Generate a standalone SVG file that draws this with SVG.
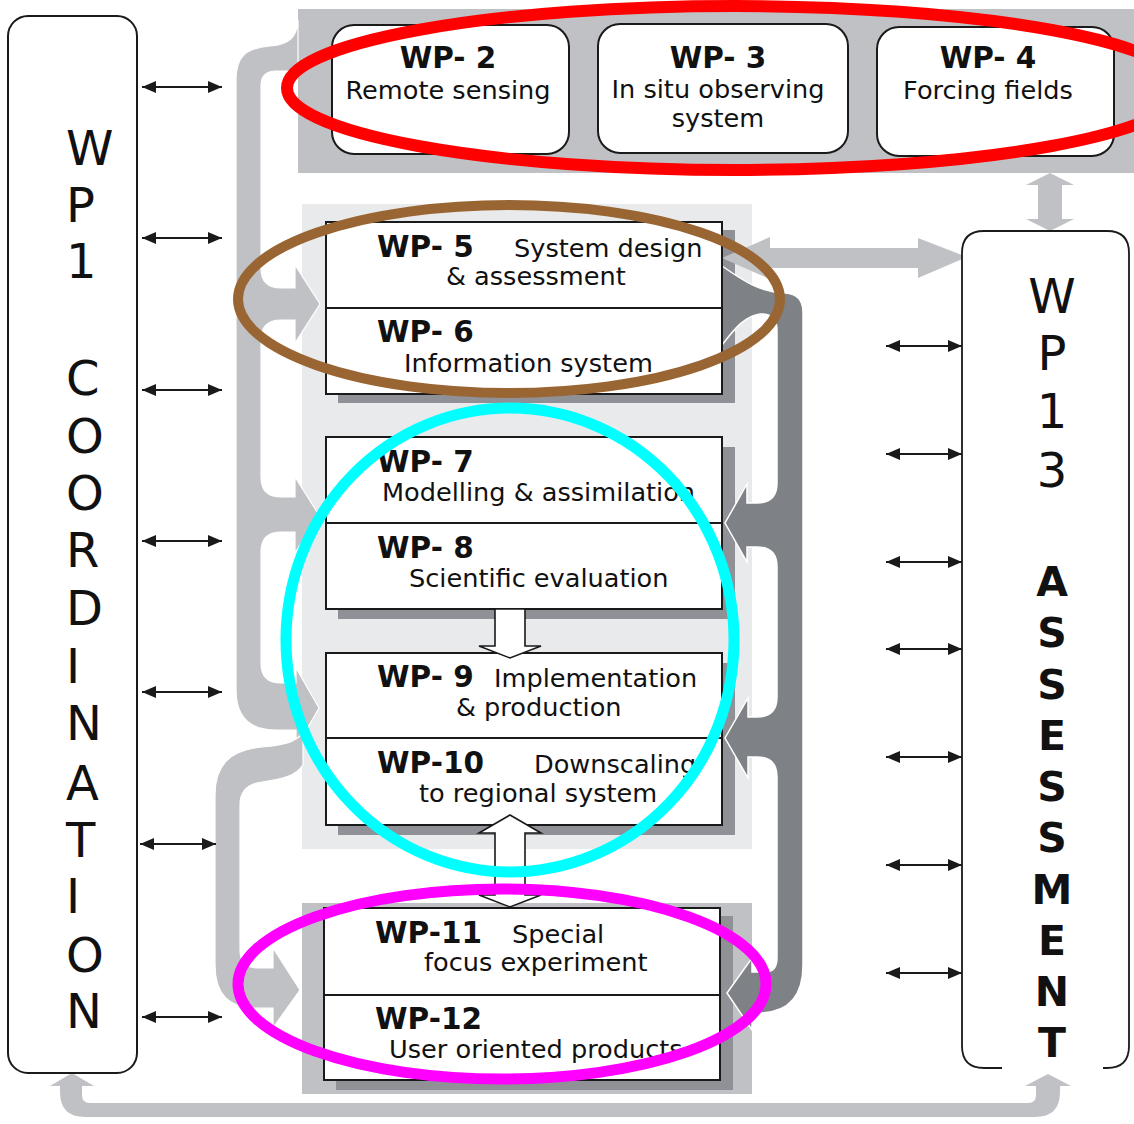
<svg xmlns="http://www.w3.org/2000/svg" width="1134" height="1124" viewBox="0 0 1134 1124">
  <defs>
    <style>
      .t { font-family: "DejaVu Sans", Verdana, sans-serif; fill: #111; }
      .title { font-size: 29.5px; font-weight: bold; }
      .sub { font-size: 25.6px; }
      .big { font-size: 48px; }
      .bigb { font-size: 41px; font-weight: bold; }
      .box { fill: #fff; stroke: #1a1a1a; stroke-width: 2; }
      .shadow { fill: #8f9196; }
      .lg { fill: #c0c1c4; }
      .flow { fill: #c0c1c4; stroke: #fff; stroke-width: 1.2; }
      .dark { fill: #7e8287; stroke: #fff; stroke-width: 1.5; }
      .hollow { fill: #fff; stroke: #1a1a1a; stroke-width: 1.6; }
      .link { stroke: #1a1a1a; stroke-width: 2; fill: none; marker-start: url(#head); marker-end: url(#head); }
      .ring { fill: none; }
    </style>
    <marker id="head" viewBox="0 0 14 12" markerUnits="userSpaceOnUse" markerWidth="14" markerHeight="12" refX="14" refY="6" orient="auto-start-reverse">
      <path d="M0 0 L14 6 L0 12 Z" fill="#1a1a1a"/>
    </marker>
  </defs>

  <rect width="1134" height="1124" fill="#fff"/>

  <!-- background panels -->
  <rect class="lg" x="298" y="9" width="836" height="164"/>
  <rect x="302" y="204" width="450" height="645" fill="#e9eaec"/>
  <rect class="lg" x="302" y="903" width="450" height="191"/>

  <!-- box shadows -->
  <rect class="shadow" x="338" y="230" width="397" height="173"/>
  <rect class="shadow" x="338" y="447" width="397" height="172"/>
  <rect class="shadow" x="338" y="663" width="397" height="172"/>
  <rect class="shadow" x="336" y="916" width="397" height="174"/>

  <g id="connectors">
    <!-- left flow from the observing band down to WP5, WP7 and WP9 -->
    <path class="flow" d="M298 20 C297 36 291 44 270 46 C246 48 236 56 236 80 L236 690 Q236 730 276 730 L296 730 L296 748 L319 708 L296 668 L296 683 L281 683 Q261 683 261 663 L261 552 Q261 532 281 532 L295 532 L295 553 L319 515 L295 477 L295 497 L281 497 Q261 497 261 477 L261 340 Q261 320 281 320 L295 320 L295 343 L320 304 L295 265 L295 288 L281 288 Q261 288 261 268 L261 86 Q261 71 276 71 L298 71 Z"/>
    <!-- left flow down to WP11 -->
    <path class="flow" d="M303 733 C295 742 285 745 262 747 C230 750 215 765 215 795 L215 965 Q215 1008 255 1008 L273 1008 L273 1028 L300 990 L273 948 L273 968 L258 968 Q240 968 240 950 L240 805 Q240 785 262 782 C285 779 296 775 303 765 Z"/>
    <!-- WP5 <-> WP13 -->
    <path class="lg" d="M722 258 L770 237 L770 248 L918 248 L918 238 L967 257 L918 278 L918 268 L770 268 L770 279 Z"/>
    <!-- observing band <-> WP13 -->
    <path class="lg" d="M1050 173 L1074 185 L1062 185 L1062 219 L1074 219 L1050 231 L1026 219 L1038 219 L1038 185 L1026 185 Z"/>
    <!-- right feedback flow from WP5/6 to WP7, WP9 and WP11 -->
    <path class="dark" d="M722 266 C745 282 760 292 785 293 Q803 294 803 312 L803 965 Q803 1013 758 1013 L752 1013 L752 1030 L727 993 L752 958 L752 972 L765 972 Q777 972 777 958 L777 777 Q777 757 757 757 L748 757 L748 778 L725 738 L748 698 L748 717 L757 717 Q777 717 777 697 L777 567 Q777 547 757 547 L747 547 L747 562 L725 523 L747 484 L747 503 L757 503 Q777 503 777 483 L777 330 Q777 313 760 314 C745 316 735 328 722 345 Z"/>
    <!-- bottom loop WP13 -> WP1 -->
    <path class="lg" d="M1060 1085 L1060 1092 Q1060 1117 1035 1117 L85 1117 Q60 1117 60 1092 L60 1085 L82 1085 L82 1095 Q82 1103 90 1103 L1028 1103 Q1036 1103 1036 1095 L1036 1085 Z"/>
    <path class="lg" d="M50 1086 L72 1073 L94 1086 Z"/>
    <path class="lg" d="M1025 1086 L1048 1074 L1071 1086 Z"/>

    <!-- coordination links -->
    <line class="link" x1="142" y1="87" x2="222" y2="87"/>
    <line class="link" x1="142" y1="238" x2="222" y2="238"/>
    <line class="link" x1="142" y1="390" x2="222" y2="390"/>
    <line class="link" x1="142" y1="541" x2="222" y2="541"/>
    <line class="link" x1="142" y1="692" x2="222" y2="692"/>
    <line class="link" x1="140" y1="844" x2="216" y2="844"/>
    <line class="link" x1="142" y1="1017" x2="222" y2="1017"/>
    <!-- assessment links -->
    <line class="link" x1="886" y1="346" x2="962" y2="346"/>
    <line class="link" x1="886" y1="454" x2="962" y2="454"/>
    <line class="link" x1="886" y1="562" x2="962" y2="562"/>
    <line class="link" x1="886" y1="649" x2="962" y2="649"/>
    <line class="link" x1="886" y1="757" x2="962" y2="757"/>
    <line class="link" x1="886" y1="865" x2="962" y2="865"/>
    <line class="link" x1="886" y1="973" x2="962" y2="973"/>
  </g>

  <!-- WP1 coordination -->
  <g id="wp1">
    <rect class="box" x="8" y="16" width="129" height="1057" rx="20" stroke-width="1.8"/>
    <g class="t big">
      <text x="66" y="165">W</text>
      <text x="66" y="222">P</text>
      <text x="66" y="278">1</text>
      <text x="66" y="395">C</text>
      <text x="66" y="453">O</text>
      <text x="66" y="510">O</text>
      <text x="66" y="567">R</text>
      <text x="66" y="625">D</text>
      <text x="66" y="683">I</text>
      <text x="66" y="740">N</text>
      <text x="66" y="800">A</text>
      <text x="66" y="857">T</text>
      <text x="66" y="913">I</text>
      <text x="66" y="972">O</text>
      <text x="66" y="1028">N</text>
    </g>
  </g>

  <!-- WP13 assessment -->
  <g id="wp13">
    <rect x="962" y="231" width="167" height="837" rx="22" fill="#fff"/>
    <path d="M1002 1068 L984 1068 Q962 1068 962 1046 L962 253 Q962 231 984 231 L1107 231 Q1129 231 1129 253 L1129 1046 Q1129 1068 1107 1068 L1103 1068" fill="none" stroke="#1a1a1a" stroke-width="1.8"/>
    <g class="t big" text-anchor="middle">
      <text x="1052" y="313">W</text>
      <text x="1052" y="370">P</text>
      <text x="1052" y="428">1</text>
      <text x="1052" y="487">3</text>
    </g>
    <g class="t bigb" text-anchor="middle">
      <text x="1052" y="596">A</text>
      <text x="1052" y="647">S</text>
      <text x="1052" y="699">S</text>
      <text x="1052" y="750">E</text>
      <text x="1052" y="801">S</text>
      <text x="1052" y="852">S</text>
      <text x="1052" y="904">M</text>
      <text x="1052" y="955">E</text>
      <text x="1052" y="1006">N</text>
      <text x="1052" y="1057">T</text>
    </g>
  </g>

  <!-- observing components -->
  <g id="wp2">
    <rect class="box" x="332" y="25" width="237" height="129" rx="22" stroke-width="1.8"/>
    <text class="t title" x="448" y="68" text-anchor="middle">WP- 2</text>
    <text class="t sub" x="448" y="99" text-anchor="middle">Remote sensing</text>
  </g>
  <g id="wp3">
    <rect class="box" x="598" y="24" width="250" height="129" rx="22" stroke-width="1.8"/>
    <text class="t title" x="718" y="68" text-anchor="middle">WP- 3</text>
    <text class="t sub" x="718" y="98" text-anchor="middle" font-size="24.5">In situ observing</text>
    <text class="t sub" x="718" y="127" text-anchor="middle" font-size="24.5">system</text>
  </g>
  <g id="wp4">
    <rect class="box" x="877" y="27" width="237" height="129" rx="22" stroke-width="1.8"/>
    <text class="t title" x="988" y="68" text-anchor="middle">WP- 4</text>
    <text class="t sub" x="988" y="99" text-anchor="middle">Forcing fields</text>
  </g>

  <!-- WP5 / WP6 -->
  <g id="wp5-6">
    <rect class="box" x="326" y="222" width="396" height="172"/>
    <line x1="326" y1="308" x2="722" y2="308" stroke="#1a1a1a" stroke-width="2"/>
    <text class="t title" x="377" y="257">WP- 5</text>
    <text class="t sub" x="514" y="257">System design</text>
    <text class="t sub" x="446" y="285">&amp; assessment</text>
    <text class="t title" x="377" y="342">WP- 6</text>
    <text class="t sub" x="404" y="372">Information system</text>
  </g>

  <!-- WP7 / WP8 -->
  <g id="wp7-8">
    <rect class="box" x="326" y="437" width="396" height="172"/>
    <line x1="326" y1="523" x2="722" y2="523" stroke="#1a1a1a" stroke-width="2"/>
    <text class="t title" x="377" y="472">WP- 7</text>
    <text class="t sub" x="382" y="501">Modelling &amp; assimilation</text>
    <text class="t title" x="377" y="558">WP- 8</text>
    <text class="t sub" x="409" y="587">Scientific evaluation</text>
  </g>

  <!-- WP9 / WP10 -->
  <g id="wp9-10">
    <rect class="box" x="326" y="653" width="396" height="172"/>
    <line x1="326" y1="738" x2="722" y2="738" stroke="#1a1a1a" stroke-width="2"/>
    <text class="t title" x="377" y="687">WP- 9</text>
    <text class="t sub" x="494" y="687">Implementation</text>
    <text class="t sub" x="456" y="716">&amp; production</text>
    <text class="t title" x="377" y="773">WP-10</text>
    <text class="t sub" x="534" y="773">Downscaling</text>
    <text class="t sub" x="419" y="802">to regional system</text>
  </g>

  <!-- WP11 / WP12 -->
  <g id="wp11-12">
    <rect class="box" x="324" y="908" width="396" height="172"/>
    <line x1="324" y1="995" x2="720" y2="995" stroke="#1a1a1a" stroke-width="2"/>
    <text class="t title" x="375" y="943">WP-11</text>
    <text class="t sub" x="512" y="943">Special</text>
    <text class="t sub" x="424" y="971">focus experiment</text>
    <text class="t title" x="375" y="1029">WP-12</text>
    <text class="t sub" x="389" y="1058">User oriented products</text>
  </g>

  <!-- hollow arrows between work packages -->
  <g id="stack-links">
    <path class="hollow" d="M495 609 L525 609 L525 646 L541 646 L510 658 L479 646 L495 646 Z"/>
    <path class="hollow" d="M510 815 L541 833 L525 833 L525 895 L541 895 L510 907 L479 895 L495 895 L495 833 L479 833 Z"/>
  </g>

  <!-- grouping rings -->
  <g id="rings">
    <ellipse class="ring" cx="735" cy="88" rx="448" ry="82" stroke="#ff0000" stroke-width="12"/>
    <ellipse class="ring" cx="509" cy="299" rx="271" ry="94" stroke="#996633" stroke-width="10"/>
    <ellipse class="ring" cx="510" cy="640" rx="224" ry="232" stroke="#00ffff" stroke-width="11"/>
    <ellipse class="ring" cx="502" cy="984" rx="264" ry="95" stroke="#ff00ff" stroke-width="11"/>
  </g>
</svg>
